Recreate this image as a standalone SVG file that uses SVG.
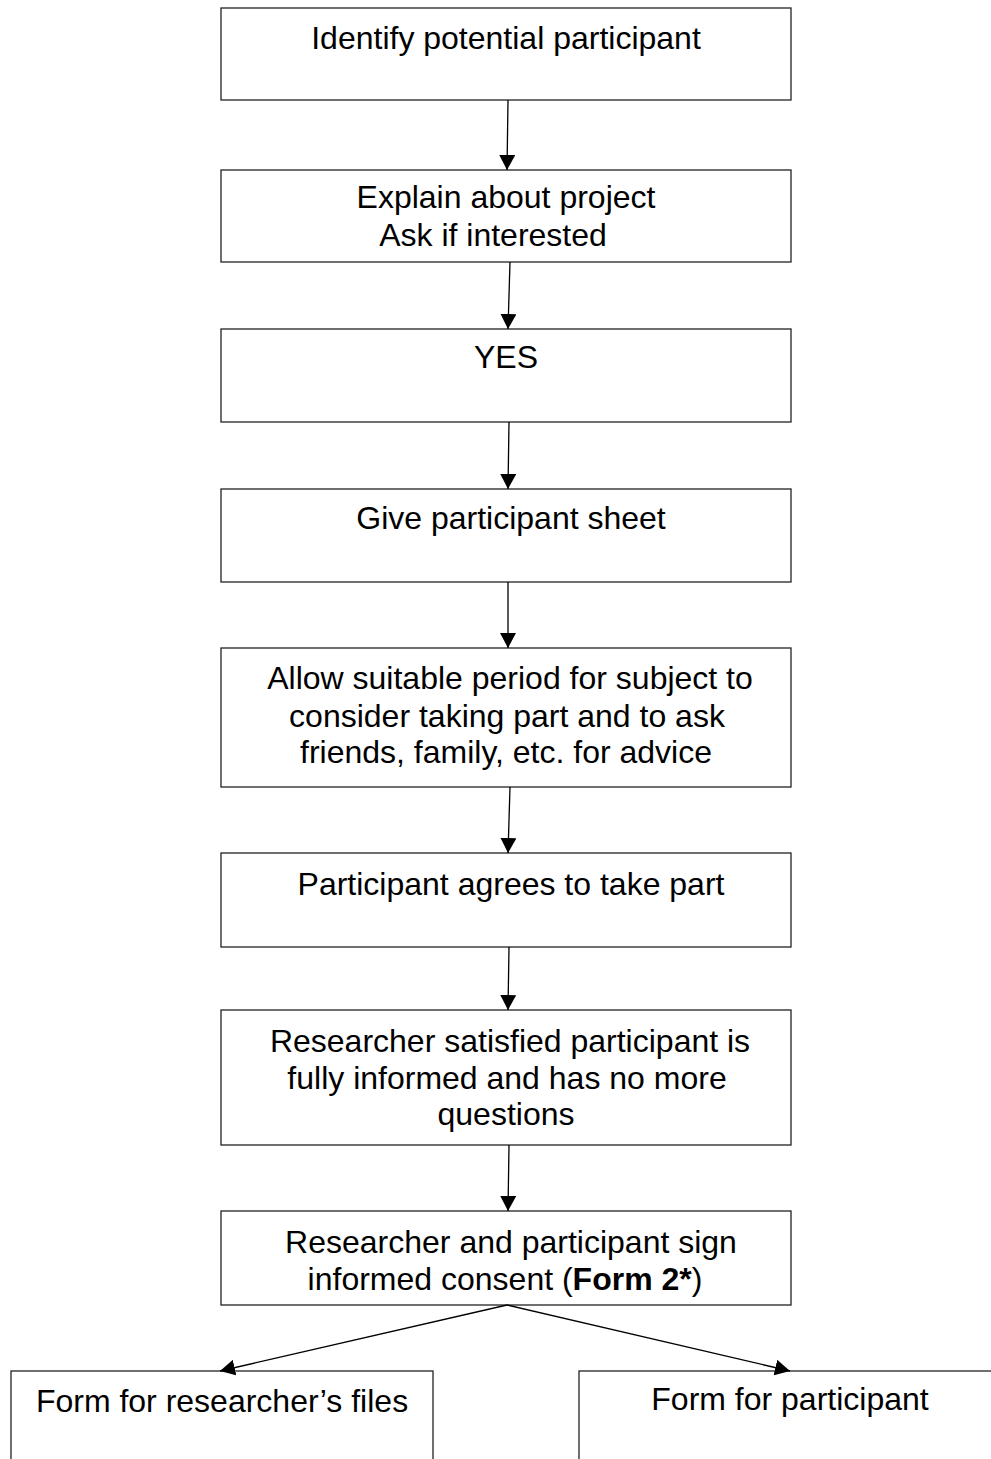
<svg xmlns="http://www.w3.org/2000/svg" width="991" height="1459" viewBox="0 0 991 1459">
<style>
.box{fill:#fff;stroke:#222;stroke-width:1.3}
.t{font-family:"Liberation Sans",Arial,sans-serif;font-size:32px;fill:#000;text-anchor:middle}
.c{stroke:#000;stroke-width:1.3;fill:none;marker-end:url(#ah)}
</style>
<defs>
<marker id="ah" markerUnits="userSpaceOnUse" markerWidth="15" markerHeight="16" refX="15" refY="8" orient="auto">
<path d="M0,0 L15,8 L0,16 z" fill="#000"/>
</marker>
</defs>
<rect width="991" height="1459" fill="#fff"/>
<g id="n1"><rect class="box" x="221" y="8" width="570" height="92"/><text class="t" x="506" y="49">Identify potential participant</text></g>
<g id="n2"><rect class="box" x="221" y="170" width="570" height="92"/><text class="t" x="506" y="208">Explain about project</text><text class="t" x="493" y="246">Ask if interested</text></g>
<g id="n3"><rect class="box" x="221" y="329" width="570" height="93"/><text class="t" x="506" y="368">YES</text></g>
<g id="n4"><rect class="box" x="221" y="489" width="570" height="93"/><text class="t" x="511" y="529">Give participant sheet</text></g>
<g id="n5"><rect class="box" x="221" y="648" width="570" height="139"/><text class="t" x="510" y="689">Allow suitable period for subject to</text><text class="t" x="507" y="727">consider taking part and to ask</text><text class="t" x="506" y="763">friends, family, etc. for advice</text></g>
<g id="n6"><rect class="box" x="221" y="853" width="570" height="94"/><text class="t" x="511" y="895">Participant agrees to take part</text></g>
<g id="n7"><rect class="box" x="221" y="1010" width="570" height="135"/><text class="t" x="510" y="1052">Researcher satisfied participant is</text><text class="t" x="507" y="1089">fully informed and has no more</text><text class="t" x="506" y="1125">questions</text></g>
<g id="n8"><rect class="box" x="221" y="1211" width="570" height="94"/><text class="t" x="511" y="1253">Researcher and participant sign</text><text class="t" x="505" y="1290">informed consent (<tspan font-weight="bold">Form 2*</tspan>)</text></g>
<g id="n9"><rect class="box" x="11" y="1371" width="422" height="120"/><text class="t" x="222" y="1412">Form for researcher’s files</text></g>
<g id="n10"><rect class="box" x="579" y="1371" width="430" height="120"/><text class="t" x="790" y="1410">Form for participant</text></g>
<g id="connectors">
<line class="c" x1="508" y1="100" x2="507" y2="170"/>
<line class="c" x1="510" y1="262" x2="508" y2="329"/>
<line class="c" x1="509" y1="422" x2="508" y2="489"/>
<line class="c" x1="508" y1="582" x2="508" y2="648"/>
<line class="c" x1="510" y1="787" x2="508" y2="853"/>
<line class="c" x1="509" y1="947" x2="508" y2="1010"/>
<line class="c" x1="509" y1="1145" x2="508" y2="1211"/>
<line class="c" x1="507" y1="1305" x2="220" y2="1371"/>
<line class="c" x1="507" y1="1305" x2="790" y2="1371"/>
</g>
</svg>
